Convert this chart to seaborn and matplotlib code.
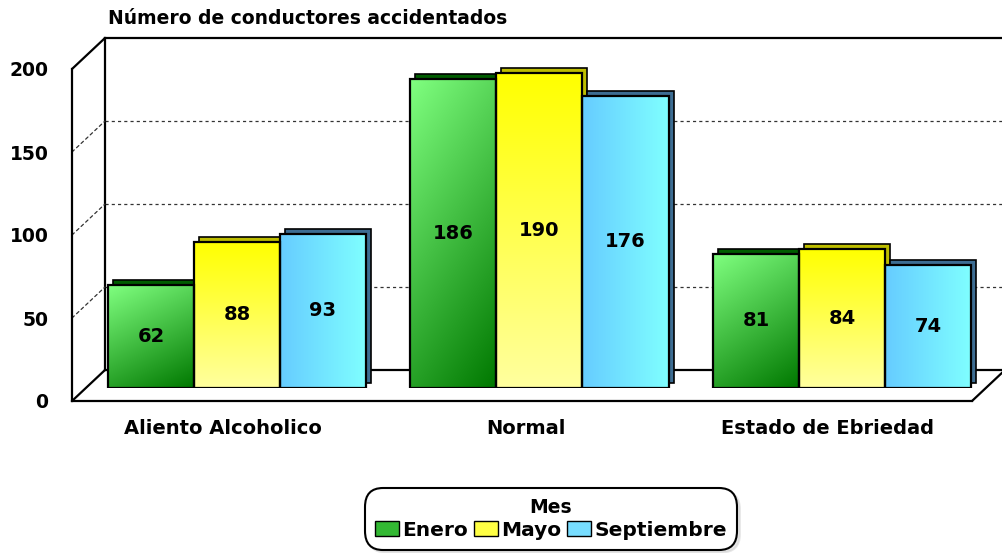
import numpy as np
import pandas as pd
import matplotlib
matplotlib.use("Agg")
import matplotlib.pyplot as plt
import seaborn as sns
from matplotlib.patches import Patch, Rectangle, ConnectionPatch
from matplotlib.transforms import ScaledTranslation

# ---------- data ----------
categorias = ["Aliento Alcoholico", "Normal", "Estado de Ebriedad"]
meses = ["Enero", "Mayo", "Septiembre"]
enero = [62, 186, 81]
mayo = [88, 190, 84]
septiembre = [93, 176, 74]
y_ticks = [0, 50, 100, 150, 200]
titulo = "Número de conductores accidentados"

df = pd.DataFrame({
    "Condicion": categorias * 3,
    "Mes": [m for m in meses for _ in categorias],
    "Conductores": enero + mayo + septiembre,
})

# ---------- style ----------
sns.set_theme(style="white")
plt.rcParams["font.family"] = ["DejaVu Sans"]
plt.rcParams["font.weight"] = "bold"
plt.rcParams["text.color"] = "black"
plt.rcParams["xtick.color"] = "black"
plt.rcParams["ytick.color"] = "black"

W, H = 1003, 553
fig = plt.figure(figsize=(W / 100, H / 100), dpi=100)
fig.patch.set_facecolor("white")


def px_axes(left, bottom_px, width, height, zorder):
    a = fig.add_axes([left / W, (H - bottom_px) / H, width / W, height / H])
    a.set_zorder(zorder)
    a.patch.set_alpha(0)
    return a


PLANE_W, PLANE_H = 900, 332
XLIM = (-0.499, 2.476)
YLIM = (0, 200)

# back wall, bar plane, front plane (fake 3D depth)
ax_back = px_axes(105, 370, PLANE_W, PLANE_H, 0)
ax = px_axes(86, 388, PLANE_W, PLANE_H, 1)
ax_front = px_axes(72, 401, PLANE_W, PLANE_H, 2)
for a in (ax_back, ax, ax_front):
    a.set_xlim(*XLIM)
    a.set_ylim(*YLIM)

GRID_LS = (0, (2.5, 2.5))

# ---------- back wall ----------
ax_back.set_xticks([])
ax_back.set_yticks([50, 100, 150])
ax_back.set_yticklabels([])
ax_back.tick_params(length=0)
ax_back.grid(axis="y", color="#333333", linestyle=GRID_LS, linewidth=0.9)
for side in ("left", "top", "bottom"):
    ax_back.spines[side].set_visible(True)
    ax_back.spines[side].set_color("black")
    ax_back.spines[side].set_linewidth(1.6)
ax_back.spines["right"].set_visible(False)

# ---------- front plane: axis line, tick labels ----------
ax_front.set_yticks(y_ticks)
ax_front.set_yticklabels([str(v) for v in y_ticks], fontsize=13.5, fontweight="bold")
ax_front.set_xticks(range(len(categorias)))
ax_front.set_xticklabels(categorias, fontsize=14, fontweight="bold")
ax_front.tick_params(axis="y", length=0, pad=17)
ax_front.tick_params(axis="x", length=0, pad=13)
for side in ("left", "bottom"):
    ax_front.spines[side].set_visible(True)
    ax_front.spines[side].set_color("black")
    ax_front.spines[side].set_linewidth(1.6)
for side in ("top", "right"):
    ax_front.spines[side].set_visible(False)

# depth connectors between front and back planes
for v in y_ticks:
    solid = v in (0, 200)
    con = ConnectionPatch(
        xyA=(0, v), coordsA=ax_front.get_yaxis_transform(),
        xyB=(0, v), coordsB=ax_back.get_yaxis_transform(),
        color="black" if solid else "#333333",
        linewidth=1.6 if solid else 0.9,
        linestyle="-" if solid else GRID_LS,
        zorder=0.5,
    )
    fig.add_artist(con)
con = ConnectionPatch(
    xyA=(1, 0), coordsA=ax_front.transAxes,
    xyB=(1, 0), coordsB=ax_back.transAxes,
    color="black", linewidth=1.6, zorder=0.5,
)
fig.add_artist(con)

# ---------- bars ----------
pal = {"Enero": "#33b833", "Mayo": "#ffff44", "Septiembre": "#77ddff"}
depth_col = {"Enero": "#005c00", "Mayo": "#bdbd00", "Septiembre": "#3d6d93"}

sns.barplot(
    data=df, x="Condicion", y="Conductores", hue="Mes",
    order=categorias, hue_order=meses, palette=pal,
    width=0.853, gap=0, edgecolor="black", linewidth=1.6,
    legend=False, ax=ax,
)
ax.set_xlim(*XLIM)
ax.set_ylim(*YLIM)
ax.axis("off")


def gradient(mes, n=64):
    t = np.linspace(0, 1, n)
    if mes == "Enero":
        # diagonal, mostly vertical: light top-left -> dark bottom-right
        tt = 0.7 * t[:, None] + 0.3 * t[None, :]
        c0, c1 = np.array([0.50, 1.0, 0.50]), np.array([0.0, 0.47, 0.0])
    elif mes == "Mayo":
        # vertical: saturated top -> pale bottom
        tt = np.repeat(t[:, None], n, axis=1)
        c0, c1 = np.array([1.0, 1.0, 0.0]), np.array([1.0, 1.0, 0.62])
    else:
        # horizontal: blue left -> cyan right
        tt = np.repeat(t[None, :], n, axis=0)
        c0, c1 = np.array([0.40, 0.80, 1.0]), np.array([0.50, 1.0, 1.0])
    return c0 + (c1 - c0) * tt[..., None]


shift = ScaledTranslation(0.05, 0.05, fig.dpi_scale_trans)
for container, mes in zip(ax.containers, meses):
    img = gradient(mes)
    for bar in container:
        x0, y0 = bar.get_xy()
        w, h = bar.get_width(), bar.get_height()
        # slab depth behind the front face
        ax.add_patch(Rectangle((x0, y0), w, h, transform=ax.transData + shift,
                               facecolor=depth_col[mes], edgecolor="black",
                               linewidth=1.2, zorder=1))
        im = ax.imshow(img, extent=[x0, x0 + w, y0, y0 + h], aspect="auto",
                       interpolation="bilinear", zorder=2)
        im.set_clip_path(bar)
        bar.set_facecolor("none")
        bar.set_zorder(3)
        ax.text(x0 + w / 2, y0 + h / 2, f"{h:.0f}", ha="center", va="center",
                fontsize=14, fontweight="bold", color="black", zorder=4)
ax.set_xlim(*XLIM)
ax.set_ylim(*YLIM)

# ---------- title ----------
fig.text(108 / W, 1 - 18 / H, titulo, ha="left", va="center",
         fontsize=13.5, fontweight="bold")

# ---------- legend ----------
handles = [Patch(facecolor=pal[m], edgecolor="black", linewidth=1) for m in meses]
leg = fig.legend(
    handles, meses, title="Mes", ncol=3, loc="center",
    bbox_to_anchor=(551 / W, 1 - 519 / H),
    frameon=True, fancybox=True, shadow={"color": "#cfcfcf"},
    handlelength=1.2, handleheight=0.8, handletextpad=0.15,
    columnspacing=0.3, borderpad=0.2, labelspacing=0.15,
    prop={"size": 14.5, "weight": "bold"},
    title_fontproperties={"size": 13.5, "weight": "bold"},
    edgecolor="black", framealpha=1,
)
leg.get_frame().set_linewidth(1.5)
leg.get_frame().set_boxstyle("round,pad=0.3,rounding_size=0.9")

fig.savefig("out.png", dpi=100)
